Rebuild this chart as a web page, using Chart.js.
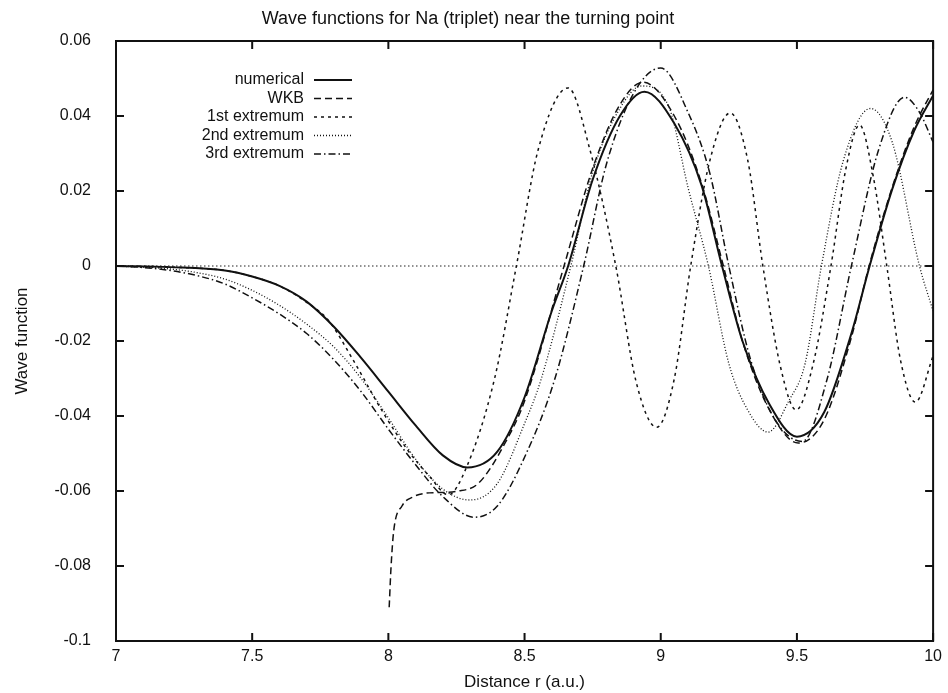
<!DOCTYPE html>
<html>
<head>
<meta charset="utf-8">
<script src="https://cdn.jsdelivr.net/npm/chart.js@4.4.1/dist/chart.umd.min.js"></script>
<style>
  html, body { margin: 0; padding: 0; background: #fff; }
  #wrap { width: 948px; height: 693px; }
</style>
</head>
<body>
<div id="wrap"><canvas id="waveChart"></canvas></div>
<script>
const xTicks = [7, 7.5, 8, 8.5, 9, 9.5, 10];
const yTicks = [-0.1, -0.08, -0.06, -0.04, -0.02, 0, 0.02, 0.04, 0.06];
const seriesLabels = ['numerical', 'WKB', '1st extremum', '2nd extremum', '3rd extremum'];

// numerical solution (solid)
const numericalX = [7.0, 7.2, 7.4, 7.5, 7.6, 7.7, 7.8, 7.9, 8.0, 8.1, 8.2, 8.29, 8.4, 8.5, 8.6, 8.66, 8.75, 8.85, 8.94, 9.05, 9.15, 9.225, 9.3, 9.4, 9.5, 9.6, 9.7, 9.767, 9.85, 9.93, 10.0];
const numericalY = [0, -0.0003, -0.0012, -0.0028, -0.0053, -0.0095, -0.0162, -0.0245, -0.0335, -0.0425, -0.0505, -0.0537, -0.0495, -0.035, -0.012, 0, 0.023, 0.040, 0.0465, 0.038, 0.0215, 0, -0.02, -0.037, -0.0455, -0.039, -0.018, 0, 0.0205, 0.036, 0.0455];

// WKB
const wkbX = [8.003, 8.01, 8.02, 8.05, 8.09, 8.15, 8.2, 8.25, 8.33, 8.43, 8.5, 8.645, 8.75, 8.85, 8.935, 9.05, 9.15, 9.23, 9.3, 9.4, 9.505, 9.6, 9.7, 9.765, 9.85, 9.93, 10.0];
const wkbY = [-0.091, -0.080, -0.0704, -0.064, -0.0616, -0.0605, -0.0604, -0.0601, -0.058, -0.047, -0.036, 0, 0.026, 0.043, 0.049, 0.040, 0.022, 0, -0.02, -0.0385, -0.0472, -0.041, -0.019, 0, 0.021, 0.037, 0.047];

// 1st extremum
const ext1X = [7.0, 7.2, 7.4, 7.5, 7.6, 7.7, 7.78, 7.87, 7.98, 8.07, 8.15, 8.22, 8.285, 8.39, 8.47, 8.55, 8.66, 8.74, 8.835, 8.91, 8.985, 9.05, 9.11, 9.18, 9.255, 9.32, 9.375, 9.44, 9.497, 9.56, 9.625, 9.68, 9.73, 9.78, 9.83, 9.88, 9.935, 10.0];
const ext1Y = [0, -0.0003, -0.0012, -0.0028, -0.0053, -0.0097, -0.0145, -0.025, -0.039, -0.049, -0.056, -0.061, -0.054, -0.030, 0, 0.031, 0.0475, 0.031, 0, -0.031, -0.043, -0.030, 0, 0.028, 0.0408, 0.028, 0, -0.027, -0.0384, -0.026, 0, 0.026, 0.0376, 0.024, 0, -0.025, -0.0363, -0.024];

// 2nd extremum
const ext2X = [7.0, 7.1, 7.2, 7.3, 7.4, 7.5, 7.6, 7.7, 7.8, 7.9, 8.0, 8.1, 8.2, 8.3, 8.4, 8.5, 8.56, 8.67, 8.75, 8.85, 8.93, 9.03, 9.1, 9.175, 9.25, 9.32, 9.394, 9.47, 9.53, 9.59, 9.67, 9.77, 9.85, 9.95, 10.0];
const ext2Y = [0, -0.0003, -0.0008, -0.0018, -0.0035, -0.0065, -0.0105, -0.0155, -0.0216, -0.030, -0.0405, -0.0515, -0.0595, -0.0624, -0.058, -0.042, -0.0304, 0, 0.025, 0.042, 0.048, 0.0424, 0.021, 0, -0.026, -0.0385, -0.0443, -0.036, -0.026, 0, 0.028, 0.042, 0.033, 0, -0.012];

// 3rd extremum
const ext3X = [7.0, 7.1, 7.2, 7.3, 7.4, 7.5, 7.6, 7.7, 7.8, 7.9, 8.0, 8.1, 8.2, 8.315, 8.4, 8.5, 8.61, 8.717, 8.8, 8.9, 9.0, 9.1, 9.18, 9.25, 9.33, 9.42, 9.52, 9.61, 9.7, 9.8, 9.895, 9.95, 10.0];
const ext3Y = [0, -0.0004, -0.0012, -0.0026, -0.0048, -0.0085, -0.0128, -0.018, -0.025, -0.0335, -0.0435, -0.053, -0.0615, -0.067, -0.064, -0.051, -0.0304, 0, 0.027, 0.046, 0.0528, 0.041, 0.0248, 0, -0.025, -0.041, -0.0468, -0.0304, 0, 0.031, 0.045, 0.041, 0.033];

const fontFamily = '"Liberation Sans", Arial, Helvetica, sans-serif';
const ink = '#111';
const textSize = 16;
const labelSize = 17;

function pts(xs, ys) {
  return xs.map((x, i) => ({ x: x, y: ys[i] }));
}

const seriesData = [
  pts(numericalX, numericalY),
  pts(wkbX, wkbY),
  pts(ext1X, ext1Y),
  pts(ext2X, ext2Y),
  pts(ext3X, ext3Y)
];
const dashes = [[], [7, 4], [3, 4], [1, 2], [7, 3, 1.5, 3]];
const widths = [2, 1.5, 1.5, 1.3, 1.5];

// gnuplot-like frame, inward ticks, zero axis and key
const gnuplotFrame = {
  id: 'gnuplotFrame',
  beforeDatasetsDraw(chart) {
    const { ctx, chartArea: a, scales: { y } } = chart;
    const y0 = y.getPixelForValue(0);
    ctx.save();
    ctx.strokeStyle = '#222';
    ctx.lineWidth = 1.2;
    ctx.setLineDash([1.5, 2.5]);
    ctx.beginPath();
    ctx.moveTo(a.left, y0);
    ctx.lineTo(a.right, y0);
    ctx.stroke();
    ctx.restore();
  },
  afterDatasetsDraw(chart) {
    const { ctx, chartArea: a, scales: { x, y } } = chart;
    ctx.save();
    ctx.strokeStyle = ink;
    ctx.lineWidth = 2;
    ctx.strokeRect(a.left, a.top, a.right - a.left, a.bottom - a.top);
    const tl = 8;
    ctx.beginPath();
    xTicks.forEach(v => {
      const px = x.getPixelForValue(v);
      ctx.moveTo(px, a.bottom); ctx.lineTo(px, a.bottom - tl);
      ctx.moveTo(px, a.top); ctx.lineTo(px, a.top + tl);
    });
    yTicks.forEach(v => {
      const py = y.getPixelForValue(v);
      ctx.moveTo(a.left, py); ctx.lineTo(a.left + tl, py);
      ctx.moveTo(a.right, py); ctx.lineTo(a.right - tl, py);
    });
    ctx.stroke();

    // key
    ctx.font = textSize + 'px ' + fontFamily;
    ctx.fillStyle = ink;
    ctx.textAlign = 'right';
    ctx.textBaseline = 'middle';
    chart.data.datasets.forEach((ds, i) => {
      const ry = a.top + 39 + i * 18.5;
      ctx.fillText(ds.label, a.left + 188, ry);
      ctx.save();
      ctx.lineWidth = ds.borderWidth;
      ctx.setLineDash(ds.borderDash);
      ctx.beginPath();
      ctx.moveTo(a.left + 198, ry);
      ctx.lineTo(a.left + 236, ry);
      ctx.stroke();
      ctx.restore();
    });
    ctx.restore();
  }
};

new Chart('waveChart', {
  type: 'line',
  data: {
    datasets: seriesLabels.map((label, i) => ({
      label: label,
      data: seriesData[i],
      borderColor: ink,
      borderWidth: widths[i],
      borderDash: dashes[i],
      pointRadius: 0,
      fill: false,
      cubicInterpolationMode: 'monotone'
    }))
  },
  options: {
    responsive: true,
    maintainAspectRatio: false,
    animation: false,
    parsing: false,
    layout: { padding: { left: 0, right: 12, top: 0, bottom: 0 } },
    plugins: {
      legend: { display: false },
      tooltip: { enabled: false },
      title: {
        display: true,
        text: 'Wave functions for Na (triplet) near the turning point',
        color: ink,
        font: { family: fontFamily, size: 18, weight: 'normal', lineHeight: 1.2 },
        padding: { top: 8, bottom: 11.4 }
      }
    },
    scales: {
      x: {
        type: 'linear',
        min: 7,
        max: 10,
        afterBuildTicks: s => { s.ticks = xTicks.map(v => ({ value: v })); },
        afterFit: s => { s.height = 52; },
        grid: { display: false, drawTicks: false },
        border: { display: false },
        ticks: {
          color: ink,
          padding: 6,
          maxRotation: 0,
          font: { family: fontFamily, size: textSize },
          callback: v => String(v)
        },
        title: {
          display: true,
          text: 'Distance r (a.u.)',
          color: ink,
          font: { family: fontFamily, size: labelSize, lineHeight: 1.2 },
          padding: { top: 0, bottom: 0 }
        }
      },
      y: {
        type: 'linear',
        min: -0.1,
        max: 0.06,
        afterBuildTicks: s => { s.ticks = yTicks.map(v => ({ value: v })); },
        afterFit: s => { s.width = 116; },
        grid: { display: false, drawTicks: false },
        border: { display: false },
        ticks: {
          color: ink,
          padding: 25,
          font: { family: fontFamily, size: textSize },
          callback: v => String(parseFloat(Number(v).toFixed(2)))
        },
        title: {
          display: true,
          text: 'Wave function',
          color: ink,
          font: { family: fontFamily, size: labelSize, lineHeight: 1.2 },
          padding: { top: 12, bottom: 0 }
        }
      }
    }
  },
  plugins: [gnuplotFrame]
});
</script>
</body>
</html>
